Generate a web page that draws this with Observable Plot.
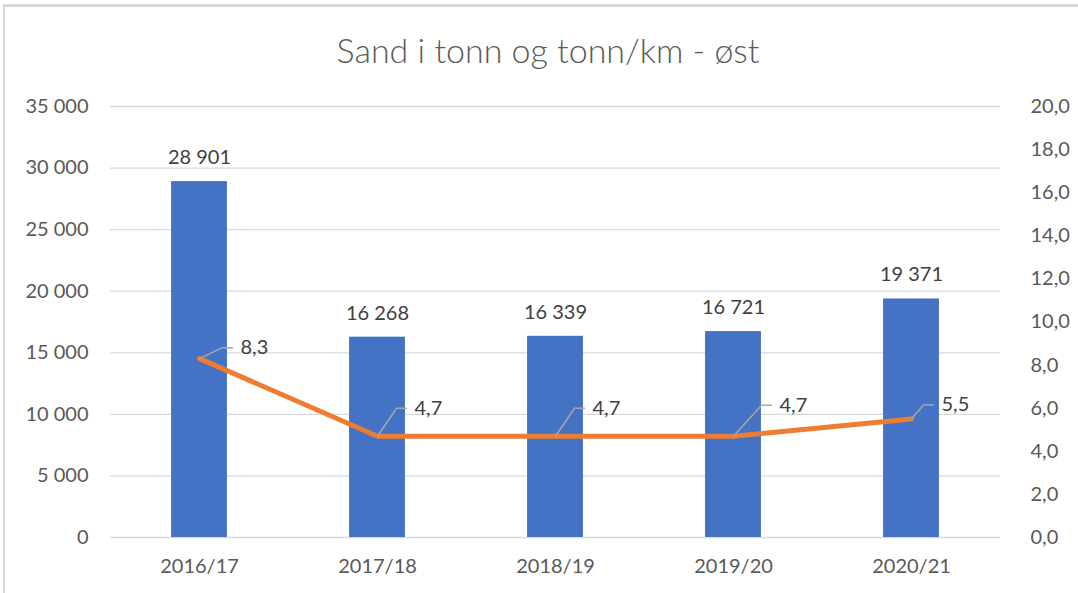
<!DOCTYPE html>
<html>
<head>
<meta charset="utf-8">
<script src="https://cdn.jsdelivr.net/npm/d3@7"></script>
<script src="https://cdn.jsdelivr.net/npm/@observablehq/plot@0.6"></script>
<style>
  html, body { margin: 0; padding: 0; background: #fff; }
  #frame { position: absolute; left: 3px; top: 4px; width: 1075px; height: 589px;
           border-top: 3px solid #d9d9d9; border-left: 2px solid #d9d9d9; box-sizing: border-box; }
  #title { position: absolute; left: 9px; top: 0; width: 1078px; height: 80px; text-align: center;
           font-family: Lato, "Open Sans", sans-serif; font-size: 34px; font-weight: 300; color: #595959; line-height: 100px; }
  #chart { position: absolute; left: 0; top: 80px; }
</style>
</head>
<body>
<div id="frame"></div>
<div id="title">Sand i tonn og tonn/km - øst</div>
<div id="chart"></div>
<script>
const categories = ["2016/17", "2017/18", "2018/19", "2019/20", "2020/21"];
const tonn = [28901, 16268, 16339, 16721, 19371];
const tonnPerKm = [8.3, 4.7, 4.7, 4.7, 5.5];
const leftTicks = [0, 5000, 10000, 15000, 20000, 25000, 30000, 35000];
const rightTicks = [0, 2, 4, 6, 8, 10, 12, 14, 16, 18, 20];

const leftMax = 35000, rightMax = 20;
const k = leftMax / rightMax;

const width = 1078, height = 513;
const marginLeft = 110, marginRight = 78, marginTop = 26, marginBottom = 56;
const pxPerX = (width - marginLeft - marginRight) / 5;
const pxPerY = (height - marginTop - marginBottom) / leftMax;
const fs = 20;

const fmtThousands = d => d3.format(",")(d).replace(/,/g, " ");
const fmtDec = d => d.toFixed(1).replace(".", ",");

const bars = categories.map((c, i) => ({i, c, v: tonn[i]}));
const pts = categories.map((c, i) => ({i, c, v: tonnPerKm[i], y: tonnPerKm[i] * k}));

// leader line pixel offsets (style)
const ldx = [23, 19, 19, 28, 12];
const ldy = [11, 28, 28, 31, 14];
const leaders = [];
const labels = [];
pts.forEach((p, j) => {
  const x1 = p.i + ldx[j] / pxPerX;
  const y1 = p.y + ldy[j] / pxPerY;
  const x2 = p.i + (ldx[j] + 10) / pxPerX;
  leaders.push({g: j, x: p.i, y: p.y});
  leaders.push({g: j, x: x1, y: y1});
  leaders.push({g: j, x: x2, y: y1});
  labels.push({x: p.i + (ldx[j] + 18) / pxPerX, y: y1, t: fmtDec(p.v)});
});

const chart = Plot.plot({
  width, height, marginLeft, marginRight, marginTop, marginBottom,
  style: {fontFamily: "Lato, 'Open Sans', sans-serif", fontSize: fs + "px", color: "#595959", background: "transparent"},
  x: {domain: [-0.5, 4.5], axis: null},
  y: {domain: [0, leftMax], axis: null},
  marks: [
    Plot.ruleY(leftTicks, {stroke: "#d9d9d9", strokeWidth: 1.3}),
    Plot.rect(bars, {x1: d => d.i - 0.157, x2: d => d.i + 0.157, y1: 0, y2: "v", fill: "#4472C4"}),
    Plot.text(bars, {x: "i", y: "v", text: d => fmtThousands(d.v), dy: -24, fill: "#404040", fontSize: fs}),
    Plot.axisY(leftTicks, {anchor: "left", tickSize: 0, tickPadding: 22, tickFormat: fmtThousands, fontSize: fs, fill: "#595959"}),
    Plot.axisY(rightTicks.map(d => d * k), {anchor: "right", tickSize: 0, tickPadding: 30, tickFormat: d => fmtDec(d / k), fontSize: fs, fill: "#595959", textAnchor: "start"}),
    Plot.axisX([0, 1, 2, 3, 4], {anchor: "bottom", tickSize: 0, tickPadding: 21, tickFormat: i => categories[i], fontSize: fs, fill: "#595959"}),
    Plot.line(pts, {x: "i", y: "y", stroke: "#ED7D31", strokeWidth: 5, strokeLinejoin: "round", strokeLinecap: "round"}),
    Plot.line(leaders, {x: "x", y: "y", z: "g", stroke: "#a6a6a6", strokeWidth: 1.5}),
    Plot.text(labels, {x: "x", y: "y", text: "t", textAnchor: "start", fill: "#404040", fontSize: fs})
  ]
});
document.getElementById("chart").appendChild(chart);
</script>
</body>
</html>
